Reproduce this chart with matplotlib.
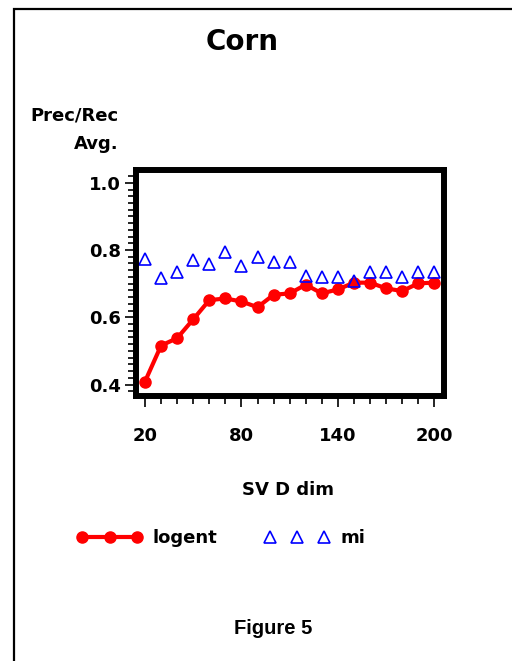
import matplotlib
matplotlib.use("Agg")
import matplotlib.pyplot as plt
from matplotlib.patches import Rectangle
from matplotlib.ticker import MultipleLocator

svd_dim = [20, 30, 40, 50, 60, 70, 80, 90, 100, 110, 120, 130, 140, 150, 160, 170, 180, 190, 200]
logent = [0.409, 0.516, 0.538, 0.594, 0.651, 0.656, 0.647, 0.630, 0.667, 0.671,
          0.697, 0.671, 0.683, 0.703, 0.703, 0.686, 0.678, 0.701, 0.703]
mi = [0.774, 0.716, 0.736, 0.770, 0.758, 0.795, 0.752, 0.778, 0.765, 0.765,
      0.723, 0.721, 0.721, 0.709, 0.736, 0.736, 0.721, 0.736, 0.736]
x_ticks = [20, 80, 140, 200]
y_ticks = [0.4, 0.6, 0.8, 1.0]

W, H = 512, 661
fig = plt.figure(figsize=(W / 100, H / 100), dpi=100)

def fx(px):
    return px / W

def fy(py):
    return 1 - py / H

# outer frame (extends beyond right/bottom edge)
fig.patches.append(Rectangle((fx(14), fy(800)), fx(600), fy(9.5) - fy(800),
                             transform=fig.transFigure, fill=False,
                             edgecolor="black", linewidth=1.6))

ax = fig.add_axes([fx(136), fy(396), fx(444) - fx(136), fy(170) - fy(396)])
ax.plot(svd_dim, logent, color="red", linewidth=3, marker="o", markersize=8,
        markeredgecolor="red", label="logent")
ax.plot(svd_dim, mi, linestyle="none", marker="^", markersize=8, markerfacecolor="none",
        markeredgecolor="blue", markeredgewidth=1.2, label="mi")

ax.set_xlim(14.4, 206)
ax.set_ylim(0.366, 1.038)
for s in ax.spines.values():
    s.set_linewidth(4.3)

font = "DejaVu Sans"
ax.set_xticks(x_ticks)
ax.set_xticklabels([str(t) for t in x_ticks], fontfamily=font, fontweight="bold", fontsize=13)
ax.set_yticks(y_ticks)
ax.set_yticklabels([f"{t:.1f}" for t in y_ticks], fontfamily=font, fontweight="bold", fontsize=13)
ax.xaxis.set_minor_locator(MultipleLocator(10))
ax.yaxis.set_minor_locator(MultipleLocator(0.02))
ax.tick_params(axis="both", which="major", direction="out", length=8, width=1.2)
ax.tick_params(axis="x", which="major", pad=14)
ax.tick_params(axis="y", which="major", pad=3)
ax.tick_params(axis="both", which="minor", direction="out", length=6, width=1.2)

fig.text(fx(242), fy(42), "Corn", ha="center", va="center", fontfamily=font,
         fontweight="bold", fontsize=20)
fig.text(fx(119), fy(115), "Prec/Rec", ha="right", va="center", fontfamily=font,
         fontweight="bold", fontsize=13)
fig.text(fx(119), fy(144), "Avg.", ha="right", va="center", fontfamily=font,
         fontweight="bold", fontsize=13)
fig.text(fx(288), fy(490), "SV D dim", ha="center", va="center", fontfamily=font,
         fontweight="bold", fontsize=13)
fig.text(fx(273), fy(629), "Figure 5", ha="center", va="center",
         fontfamily="Liberation Sans", fontweight="bold", fontsize=14.5)

h, l = ax.get_legend_handles_labels()
leg = fig.legend(h, l, loc="center left", bbox_to_anchor=(fx(77), fy(538)), ncol=2,
                 numpoints=3, frameon=False, handlelength=3.6, handletextpad=0.6,
                 columnspacing=2.6, borderaxespad=0, borderpad=0,
                 prop={"family": font, "weight": "bold", "size": 13})

fig.savefig("out.png", dpi=100)
